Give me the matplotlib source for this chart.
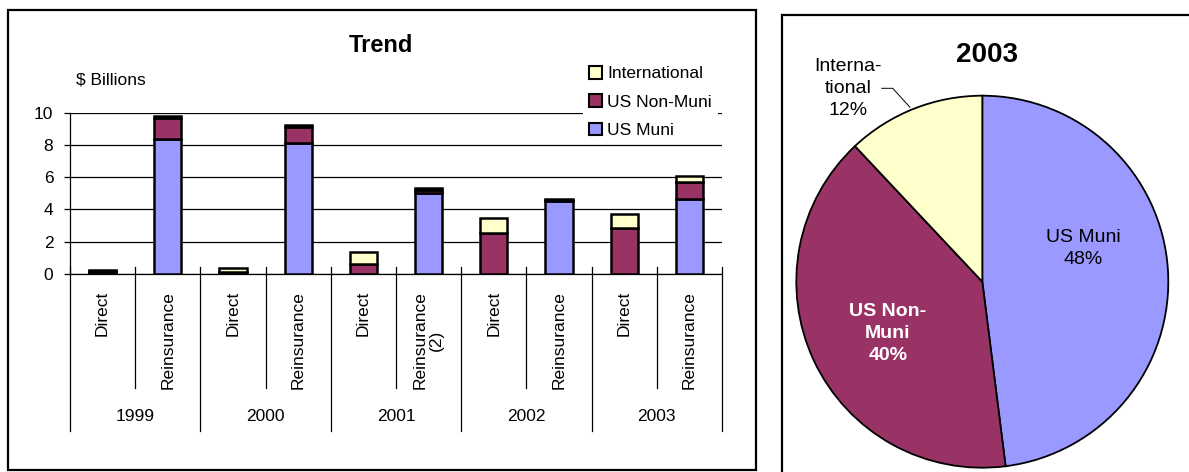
import matplotlib
matplotlib.use("Agg")
import matplotlib.pyplot as plt
from matplotlib.patches import Rectangle, Patch
from matplotlib.lines import Line2D
from matplotlib import font_manager

# ---- data ($ billions) ----
years = ["1999", "2000", "2001", "2002", "2003"]
bar_labels = ["Direct", "Reinsurance", "Direct", "Reinsurance", "Direct",
              "Reinsurance\n(2)", "Direct", "Reinsurance", "Direct", "Reinsurance"]
us_muni = [0.05, 8.35, 0.03, 8.1, 0.0, 5.0, 0.0, 4.5, 0.0, 4.67]
us_non_muni = [0.12, 1.3, 0.07, 1.0, 0.6, 0.2, 2.55, 0.1, 2.85, 1.0]
international = [0.08, 0.15, 0.25, 0.15, 0.75, 0.1, 0.9, 0.05, 0.85, 0.37]
series_names = ["US Muni", "US Non-Muni", "International"]

pie_title = "2003"
pie_names = ["US Muni", "US Non-\nMuni", "Interna-\ntional"]
pie_shares = [48, 40, 12]

colors = {"US Muni": "#9999FF", "US Non-Muni": "#993366", "International": "#FFFFCC"}

W, H = 1189, 472
fig = plt.figure(figsize=(W / 100, H / 100), dpi=100)

installed = {f.name for f in font_manager.fontManager.ttflist}
sans = "Liberation Sans" if "Liberation Sans" in installed else "DejaVu Sans"
narrow = "Liberation Sans Narrow" if "Liberation Sans Narrow" in installed else sans
plt.rcParams["font.family"] = [sans, "DejaVu Sans"]


def fx(px):
    return px / W


def fy(py):
    return 1 - py / H


# panel frames
fig.patches.append(Rectangle((fx(8), fy(470)), (756 - 8) / W, (470 - 10) / H,
                             transform=fig.transFigure, fill=False,
                             edgecolor="black", linewidth=1.6, zorder=0))
fig.patches.append(Rectangle((fx(782), fy(480)), (1200 - 782) / W, (480 - 15) / H,
                             transform=fig.transFigure, fill=False,
                             edgecolor="black", linewidth=1.6, zorder=0))

# ---- stacked bar chart ----
x0, x1, y_top, y_base = 70, 722, 112.5, 274
ax = fig.add_axes([fx(x0), fy(y_base), (x1 - x0) / W, (y_base - y_top) / H])
n = len(bar_labels)
pos = [i + 0.5 for i in range(n)]
bw = 0.42
edge = dict(edgecolor="black", linewidth=1.8)
bottom = [0.0] * n
for name, vals in zip(series_names, [us_muni, us_non_muni, international]):
    ax.bar(pos, vals, bw, bottom=bottom, color=colors[name], label=name, zorder=3, **edge)
    bottom = [b + v for b, v in zip(bottom, vals)]

ax.set_xlim(0, n)
ax.set_ylim(0, 10)
ax.set_yticks(range(0, 11, 2))
ax.yaxis.grid(True, color="black", linewidth=0.9, zorder=0)
ax.set_axisbelow(True)
ax.tick_params(axis="y", direction="out", length=4, width=0.9, pad=8, labelsize=12.5)
ax.set_xticks([])
for s in ("top", "right"):
    ax.spines[s].set_visible(False)
for s in ("left", "bottom"):
    ax.spines[s].set_linewidth(0.9)

xt = ax.get_xaxis_transform()
span = y_base - y_top


def fr(py):
    return (y_base - py) / span


for p, lab in zip(pos, bar_labels):
    ax.text(p, fr(291), lab, transform=xt, rotation=90, ha="center", va="top",
            multialignment="center", fontsize=12.5, linespacing=1.1)
for k in range(n + 1):
    end = 431 if k % 2 == 0 else 388
    ax.add_line(Line2D([k, k], [fr(267), fr(end)], transform=xt, color="black",
                       linewidth=0.9, clip_on=False))
for j, yr in enumerate(years):
    ax.text(2 * j + 1, fr(417), yr, transform=xt, ha="center", va="center", fontsize=12.5)

fig.text(fx(381), fy(45), "Trend", ha="center", va="center", fontsize=17,
         fontweight="bold")
fig.text(fx(76), fy(80), "$ Billions", ha="left", va="center", fontsize=12.5)

handles = [Patch(facecolor=colors[nm], edgecolor="black", linewidth=1.5)
           for nm in reversed(series_names)]
leg = fig.legend(handles, list(reversed(series_names)), loc="upper left",
                 bbox_to_anchor=(fx(583), fy(60)), frameon=True, fontsize=12.5,
                 handlelength=0.75, handleheight=0.75, handletextpad=0.3,
                 labelspacing=0.74, borderpad=0.35, borderaxespad=0)
leg.get_frame().set_facecolor("white")
leg.get_frame().set_edgecolor("none")
leg.get_frame().set_alpha(1)

# ---- 2003 pie ----
cx, cy, r = 982.3, 281.7, 186.0
half = 200
pax = fig.add_axes([fx(cx - half), fy(cy + half), 2 * half / W, 2 * half / H])
pax.pie(pie_shares, colors=[colors[s] for s in series_names], startangle=90,
        counterclock=False, radius=1,
        wedgeprops=dict(edgecolor="black", linewidth=1.3))
lim = half / r
pax.set_xlim(-lim, lim)
pax.set_ylim(-lim, lim)
pax.set_aspect("equal")
pax.axis("off")


def dx(px):
    return (px - cx) / r


def dy(py):
    return (cy - py) / r


pax.text(dx(986.7), dy(55), pie_title, ha="center", va="center", fontsize=20,
         fontweight="bold", family=[narrow, "DejaVu Sans"])
pax.text(dx(1083), dy(248.5), f"{pie_names[0]}\n{pie_shares[0]}%", ha="center",
         va="center", fontsize=14, linespacing=1.35, family=[narrow, "DejaVu Sans"])
pax.text(dx(888), dy(333.5), f"{pie_names[1]}\n{pie_shares[1]}%", ha="center",
         va="center", fontsize=14, linespacing=1.35, color="white", fontweight="bold",
         family=[narrow, "DejaVu Sans"])
pax.text(dx(848), dy(88.5), f"{pie_names[2]}\n{pie_shares[2]}%", ha="center",
         va="center", fontsize=14, linespacing=1.4, family=[narrow, "DejaVu Sans"])
pax.add_line(Line2D([dx(881.7), dx(892.7), dx(910)], [dy(88.3), dy(88.3), dy(107.3)],
                    color="black", linewidth=0.7, clip_on=False))

fig.savefig("out.png", dpi=100, facecolor="white")
